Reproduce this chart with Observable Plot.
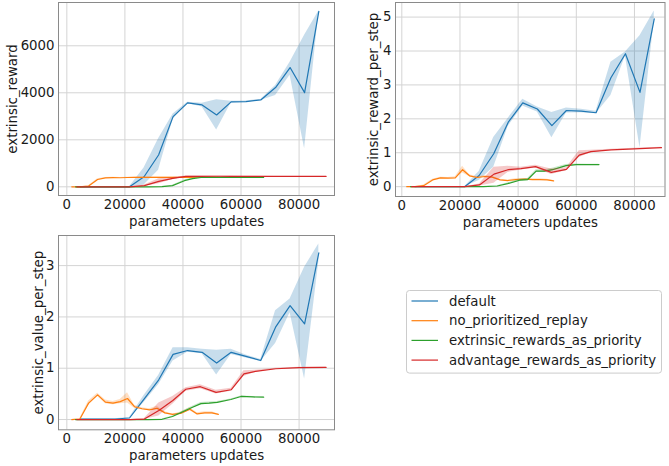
<!DOCTYPE html>
<html><head><meta charset="utf-8">
<script src="https://cdn.jsdelivr.net/npm/d3@7"></script>
<script src="https://cdn.jsdelivr.net/npm/@observablehq/plot@0.6"></script>
<style>
html,body{margin:0;padding:0;background:#fff;}
#fig{position:relative;width:669px;height:466px;overflow:hidden;font-family:"DejaVu Sans",sans-serif;}
#fig > *{position:absolute;}
</style></head><body><div id="fig"></div>
<script>
// ---------- data ----------
const seriesNames = ["default","no_prioritized_replay","extrinsic_rewards_as_priority","advantage_rewards_as_priority"];
const seriesColors = ["#1f77b4","#ff7f0e","#2ca02c","#d62728"];
const metricNames = ["extrinsic_reward","extrinsic_reward_per_step","extrinsic_value_per_step"];
const xLabel = "parameters updates";
const xTicks = [0,20000,40000,60000,80000];
const yTicksReward = [0,2000,4000,6000];
const yTicksPerStep = [0,1,2,3,4,5];
const yTicksValue = [0,1,2,3];

// default
const xDefault = [4600,11600,16600,21600,26600,31600,36600,41600,46600,51600,56600,61700,66800,71900,76900,81900,86800];
const rewardDefault   = [0,0,0,0,426,1352,2985,3570,3484,3057,3612,3625,3697,4222,5074,4008,7462];
const rewardDefaultLo = [0,0,0,0,80,700,2870,3540,3400,2420,3570,3600,3670,3890,4750,1620,7440];
const rewardDefaultHi = [0,0,0,0,800,2050,3100,3600,3560,3700,3640,3650,3720,4310,5300,6450,7480];
const perStepDefault   = [0,0,0,0,0.33,0.97,1.90,2.47,2.29,1.80,2.245,2.23,2.18,3.21,3.92,2.78,4.95];
const perStepDefaultLo = [0,0,0,0,0.18,0.57,1.78,2.38,2.20,1.44,2.17,2.18,2.15,2.69,3.85,1.15,4.90];
const perStepDefaultHi = [0,0,0,0,0.45,1.45,2.02,2.58,2.35,2.19,2.32,2.28,2.22,3.67,3.97,4.45,5.18];
const valueDefault   = [0.01,0.01,0.01,0.03,0.40,0.77,1.27,1.345,1.31,1.10,1.31,1.23,1.15,1.80,2.22,1.865,3.25];
const valueDefaultLo = [0.005,0.005,0.005,0.02,0.33,0.68,1.14,1.31,1.28,0.87,1.27,1.20,1.13,1.48,2.08,0.79,3.08];
const valueDefaultHi = [0.015,0.015,0.015,0.04,0.47,0.86,1.40,1.40,1.37,1.35,1.37,1.26,1.17,2.12,2.35,2.97,3.42];

// no_prioritized_replay
const xNoPrio = [1700,4500,7500,10600,13300,15900,18400,20900,23300,25900,28500,31100,33800,36400,39200,42400,44900,47500,50000,52200];
const rewardNoPrio   = [0,0,30,310,380,390,385,395,398,400,402,400,405,405,403,405,408,405,405,405];
const rewardNoPrioLo = [0,0,15,280,365,378,372,380,385,388,390,388,392,393,390,392,396,393,393,395];
const rewardNoPrioHi = [0,0,50,340,395,402,398,410,410,412,414,412,418,417,416,418,420,417,417,415];
const perStepNoPrio   = [0,0,0.03,0.20,0.26,0.25,0.26,0.50,0.32,0.27,0.30,0.28,0.20,0.18,0.21,0.22,0.21,0.21,0.20,0.17];
const perStepNoPrioLo = [0,0,0.02,0.18,0.24,0.23,0.24,0.40,0.29,0.25,0.27,0.25,0.18,0.16,0.19,0.20,0.19,0.19,0.18,0.16];
const perStepNoPrioHi = [0,0,0.05,0.22,0.28,0.27,0.29,0.60,0.35,0.29,0.33,0.31,0.22,0.20,0.23,0.24,0.23,0.23,0.22,0.18];
const valueNoPrio   = [0,0.01,0.32,0.48,0.34,0.32,0.35,0.41,0.25,0.21,0.19,0.22,0.13,0.10,0.12,0.20,0.11,0.13,0.13,0.10];
const valueNoPrioLo = [0,0,0.28,0.45,0.31,0.29,0.31,0.32,0.22,0.19,0.17,0.19,0.11,0.09,0.10,0.17,0.09,0.11,0.11,0.09];
const valueNoPrioHi = [0,0.02,0.36,0.51,0.38,0.35,0.39,0.52,0.28,0.23,0.21,0.26,0.15,0.11,0.14,0.23,0.13,0.15,0.15,0.11];

// extrinsic_rewards_as_priority
const xExtr = [3000,8000,13000,18000,23000,28000,32800,36400,40500,43300,46200,49000,51800,56500,60000,64000,67800];
const rewardExtr   = [0,0,0,0,0,0,5,50,260,350,395,398,400,400,398,396,395];
const rewardExtrLo = [0,0,0,0,0,0,0,35,235,330,385,388,390,392,390,389,388];
const rewardExtrHi = [0,0,0,0,0,0,10,65,285,370,405,408,410,408,406,403,402];
const perStepExtr   = [0,0,0,0,0,0,0.02,0.09,0.19,0.21,0.46,0.46,0.50,0.62,0.65,0.65,0.65];
const perStepExtrLo = [0,0,0,0,0,0,0.01,0.07,0.16,0.18,0.42,0.42,0.46,0.59,0.63,0.64,0.64];
const perStepExtrHi = [0,0,0,0,0,0,0.03,0.11,0.22,0.24,0.50,0.50,0.54,0.65,0.67,0.66,0.66];
const valueExtr   = [0,0,0,0,0,0,0.005,0.06,0.165,0.24,0.31,0.32,0.335,0.39,0.45,0.44,0.435];
const valueExtrLo = [0,0,0,0,0,0,0,0.05,0.15,0.22,0.29,0.30,0.32,0.38,0.44,0.43,0.43];
const valueExtrHi = [0,0,0,0,0,0,0.01,0.07,0.18,0.26,0.33,0.34,0.35,0.40,0.46,0.45,0.44];

// advantage_rewards_as_priority
const xAdv = [3400,8400,13400,18400,21700,26700,31700,36500,41000,46000,51400,56600,61000,65000,72000,80000,89300];
const rewardAdv   = [0,0,0,0,0,50,230,360,440,445,448,445,442,440,440,440,440];
const rewardAdvLo = [0,0,0,0,0,20,130,310,420,430,430,435,435,435,438,438,438];
const rewardAdvHi = [0,0,0,0,0,80,340,400,460,460,465,455,450,445,442,442,442];
const perStepAdv   = [0,0,0,0,0,0.05,0.37,0.50,0.53,0.59,0.42,0.51,0.93,1.035,1.085,1.115,1.15];
const perStepAdvLo = [0,0,0,0,0,0.02,0.10,0.42,0.49,0.55,0.36,0.47,0.86,1.00,1.07,1.10,1.14];
const perStepAdvHi = [0,0,0,0,0,0.08,0.57,0.60,0.57,0.63,0.52,0.56,1.06,1.07,1.10,1.13,1.16];
const valueAdv   = [0,0,0,0,0,0.01,0.175,0.37,0.59,0.64,0.53,0.58,0.89,0.94,0.99,1.01,1.015];
const valueAdvLo = [0,0,0,0,0,0,0.07,0.30,0.55,0.60,0.50,0.55,0.84,0.92,0.98,1.00,1.01];
const valueAdvHi = [0,0,0,0,0,0.02,0.32,0.45,0.62,0.68,0.57,0.61,0.95,0.96,1.00,1.02,1.02];

// ---------- build ----------
const xs = [xDefault, xNoPrio, xExtr, xAdv];
const panelSeries = [
  [[rewardDefault,rewardDefaultLo,rewardDefaultHi],[rewardNoPrio,rewardNoPrioLo,rewardNoPrioHi],[rewardExtr,rewardExtrLo,rewardExtrHi],[rewardAdv,rewardAdvLo,rewardAdvHi]],
  [[perStepDefault,perStepDefaultLo,perStepDefaultHi],[perStepNoPrio,perStepNoPrioLo,perStepNoPrioHi],[perStepExtr,perStepExtrLo,perStepExtrHi],[perStepAdv,perStepAdvLo,perStepAdvHi]],
  [[valueDefault,valueDefaultLo,valueDefaultHi],[valueNoPrio,valueNoPrioLo,valueNoPrioHi],[valueExtr,valueExtrLo,valueExtrHi],[valueAdv,valueAdvLo,valueAdvHi]]
];
const yTicksAll = [yTicksReward, yTicksPerStep, yTicksValue];

const layout = [
  {left:0,   top:0,   width:340, height:232, mt:2, mb:37, ml:58, mr:6,   xd:[-2870,92200], yd:[-370,7842],  ydx:-46},
  {left:340, top:0,   width:329, height:232, mt:2, mb:36, ml:55, mr:4.5, xd:[-2170,90500], yd:[-0.29,5.43], ydx:-22},
  {left:0,   top:232, width:340, height:234, mt:3, mb:36.7, ml:58, mr:6, xd:[-2870,92200], yd:[-0.2,3.587], ydx:-20}
];

const fig = document.getElementById("fig");
const ink = "#1a1a1a";

layout.forEach((L, p) => {
  const marks = [
    Plot.gridX(xTicks, {stroke:"#d4d4d4", strokeOpacity:1, strokeWidth:1}),
    Plot.gridY(yTicksAll[p], {stroke:"#d4d4d4", strokeOpacity:1, strokeWidth:1})
  ];
  seriesNames.forEach((name, s) => {
    const [ys, lo, hi] = panelSeries[p][s];
    const rows = xs[s].map((x, i) => ({x, y: ys[i], lo: lo[i], hi: hi[i]}));
    marks.push(Plot.areaY(rows, {x:"x", y1:"lo", y2:"hi", fill: seriesColors[s], fillOpacity:0.25}));
    marks.push(Plot.lineY(rows, {x:"x", y:"y", stroke: seriesColors[s], strokeWidth:1.2}));
  });
  marks.push(Plot.frame({stroke:"#8a8a8a", strokeWidth:1}));
  marks.push(Plot.axisX(xTicks, {tickSize:0, tickPadding:4, label:null, tickFormat:d3.format("d"), fill:ink}));
  marks.push(Plot.axisY(yTicksAll[p], {tickSize:0, tickPadding:4, label:null, tickFormat:d3.format("d"), fill:ink}));
  marks.push(Plot.text([xLabel], {frameAnchor:"bottom", dy:30, lineAnchor:"bottom", textAnchor:"middle", text:d=>d, fill:ink, fontSize:13.3}));
  marks.push(Plot.text([metricNames[p]], {frameAnchor:"left", dx:L.ydx, rotate:-90, lineAnchor:"middle", textAnchor:"middle", text:d=>d, fill:ink, fontSize:13.3}));

  const svg = Plot.plot({
    width: L.width, height: L.height,
    marginTop: L.mt, marginBottom: L.mb, marginLeft: L.ml, marginRight: L.mr,
    x: {type:"linear", domain: L.xd},
    y: {type:"linear", domain: L.yd},
    style: {fontFamily:'"DejaVu Sans", sans-serif', fontSize:"13.3px", background:"transparent", color: ink, overflow:"visible"},
    marks
  });
  svg.style.left = L.left + "px";
  svg.style.top = L.top + "px";
  fig.appendChild(svg);
});

// legend
const lg = d3.create("svg").attr("width", 258).attr("height", 86)
  .style("left", "405px").style("top", "289px").style("overflow","visible");
lg.append("rect").attr("x", 1.5).attr("y", 1.5).attr("width", 255).attr("height", 82.6)
  .attr("rx", 3).attr("fill", "#fff").attr("fill-opacity", 0.8).attr("stroke", "#cccccc");
seriesNames.forEach((name, i) => {
  const cy = 12 + i * 19.7;
  lg.append("line").attr("x1", 6.5).attr("x2", 33).attr("y1", cy).attr("y2", cy)
    .attr("stroke", seriesColors[i]).attr("stroke-width", 1.2);
  lg.append("text").attr("x", 44).attr("y", cy).attr("dy", "0.35em")
    .attr("font-family", '"DejaVu Sans", sans-serif').attr("font-size", "13.3px").attr("fill", ink).text(name);
});
fig.appendChild(lg.node());
</script>
</body></html>
